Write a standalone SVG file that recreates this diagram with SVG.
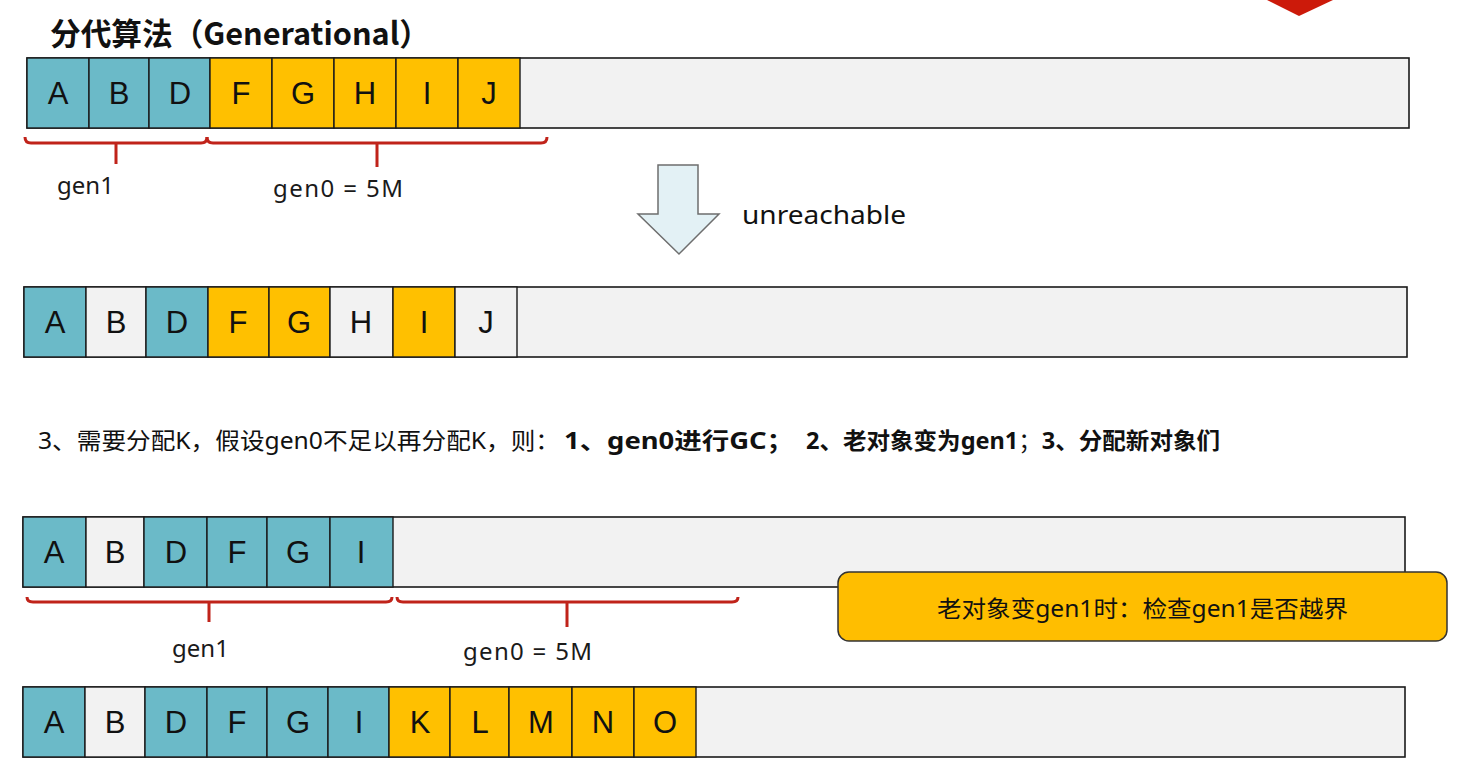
<svg xmlns="http://www.w3.org/2000/svg" width="1465" height="782" viewBox="0 0 1465 782">
<style>
.bar{fill:#F2F2F2;stroke:#1a1a1a;stroke-width:1.6}
.t{fill:#6BBAC8;stroke:#1a1a1a;stroke-width:1.4}
.o{fill:#FFC000;stroke:#1a1a1a;stroke-width:1.4}
.g{fill:#F2F2F2;stroke:#1a1a1a;stroke-width:1.4}
.L{font-family:"Liberation Sans",Arial,sans-serif;font-size:31px;fill:#111;text-anchor:middle}
.lab{font-family:"Noto Sans","Noto Sans CJK SC",sans-serif;font-size:24px;fill:#1a1a1a}
.cn{font-family:"Noto Sans","Noto Sans CJK SC",sans-serif;font-size:23px;fill:#111}
.b{font-weight:bold}
.n{font-weight:normal}
.br{fill:none;stroke:#C0231A;stroke-width:3;stroke-linejoin:round}
</style>
<polygon points="1267,0 1333,0 1299,16" fill="#CC1A0A"/>
<text id="title" x="50" y="45" font-family="'Noto Sans CJK SC','Noto Sans',sans-serif" font-size="31" font-weight="bold" fill="#111" textLength="380" lengthAdjust="spacingAndGlyphs">分代算法（Generational）</text>

<g id="row1">
<rect class="bar" x="27" y="58" width="1382" height="70"/>
<g id="r1A"><rect class="t" x="27" y="58" width="62" height="70"/><text class="L" x="58" y="104">A</text></g>
<g id="r1B"><rect class="t" x="89" y="58" width="60" height="70"/><text class="L" x="119" y="104">B</text></g>
<g id="r1D"><rect class="t" x="149" y="58" width="61" height="70"/><text class="L" x="180" y="104">D</text></g>
<g id="r1F"><rect class="o" x="210" y="58" width="62" height="70"/><text class="L" x="241" y="104">F</text></g>
<g id="r1G"><rect class="o" x="272" y="58" width="62" height="70"/><text class="L" x="303" y="104">G</text></g>
<g id="r1H"><rect class="o" x="334" y="58" width="62" height="70"/><text class="L" x="365" y="104">H</text></g>
<g id="r1I"><rect class="o" x="396" y="58" width="62" height="70"/><text class="L" x="427" y="104">I</text></g>
<g id="r1J"><rect class="o" x="458" y="58" width="62" height="70"/><text class="L" x="489" y="104">J</text></g>
</g>

<g id="braces">
<path class="br" d="M25,137 Q25,143 31,143 H201 Q207,143 207,137 M116,143 V164"/>
<path class="br" d="M207,137 Q207,143 213,143 H541 Q547,143 547,137 M377,143 V167"/>
<path class="br" d="M27,597 Q27,602 33,602 H386 Q392,602 392,597 M209,602 V622"/>
<path class="br" d="M397,597 Q397,602 403,602 H732 Q738,602 738,597 M567,602 V627"/>
</g>
<g id="labels">
<text class="lab" x="57" y="194">gen1</text>
<text class="lab" x="273" y="197" textLength="130" lengthAdjust="spacing">gen0 = 5M</text>
<text class="lab" x="172" y="657">gen1</text>
<text class="lab" x="463" y="660" textLength="129" lengthAdjust="spacing">gen0 = 5M</text>
</g>

<g id="arrow">
<polygon points="658,165 698,165 698,214 719,214 679,254 638,214 658,214" fill="#E3F1F5" stroke="#6e6e6e" stroke-width="1.5"/>
<text x="742" y="224" font-family="'Noto Sans',sans-serif" font-size="26" fill="#111" textLength="164" lengthAdjust="spacingAndGlyphs">unreachable</text>
</g>

<g id="row2">
<rect class="bar" x="24" y="287" width="1383" height="70"/>
<g id="r2A"><rect class="t" x="24" y="287" width="62" height="70"/><text class="L" x="55" y="333">A</text></g>
<g id="r2B"><rect class="g" x="86" y="287" width="60" height="70"/><text class="L" x="116" y="333">B</text></g>
<g id="r2D"><rect class="t" x="146" y="287" width="62" height="70"/><text class="L" x="177" y="333">D</text></g>
<g id="r2F"><rect class="o" x="208" y="287" width="61" height="70"/><text class="L" x="238" y="333">F</text></g>
<g id="r2G"><rect class="o" x="269" y="287" width="61" height="70"/><text class="L" x="299" y="333">G</text></g>
<g id="r2H"><rect class="g" x="330" y="287" width="63" height="70"/><text class="L" x="361" y="333">H</text></g>
<g id="r2I"><rect class="o" x="393" y="287" width="62" height="70"/><text class="L" x="424" y="333">I</text></g>
<g id="r2J"><rect class="g" x="455" y="287" width="62" height="70"/><text class="L" x="486" y="333">J</text></g>
</g>

<g id="step3">
<text class="cn" x="38" y="449" textLength="522" lengthAdjust="spacingAndGlyphs">3、需要分配K，假设gen0不足以再分配K，则：</text>
<text class="cn b" x="564" y="449" textLength="230" lengthAdjust="spacingAndGlyphs">1、gen0进行GC；</text>
<text class="cn b" x="806" y="449" textLength="414" lengthAdjust="spacingAndGlyphs">2、老对象变为gen1<tspan class="n">；</tspan>3、分配新对象们</text>
</g>

<g id="row3">
<rect class="bar" x="23" y="517" width="1382" height="70"/>
<g id="r3A"><rect class="t" x="23" y="517" width="63" height="70"/><text class="L" x="54" y="563">A</text></g>
<g id="r3B"><rect class="g" x="86" y="517" width="58" height="70"/><text class="L" x="115" y="563">B</text></g>
<g id="r3D"><rect class="t" x="144" y="517" width="63" height="70"/><text class="L" x="176" y="563">D</text></g>
<g id="r3F"><rect class="t" x="207" y="517" width="60" height="70"/><text class="L" x="237" y="563">F</text></g>
<g id="r3G"><rect class="t" x="267" y="517" width="63" height="70"/><text class="L" x="298" y="563">G</text></g>
<g id="r3I"><rect class="t" x="330" y="517" width="63" height="70"/><text class="L" x="361" y="563">I</text></g>
</g>

<g id="callout">
<rect x="838" y="572" width="609" height="69" rx="11" fill="#FFBE00" stroke="#333" stroke-width="1.5"/>
<text class="cn" x="937" y="617" font-size="23" textLength="411" lengthAdjust="spacingAndGlyphs">老对象变gen1时：检查gen1是否越界</text>
</g>

<g id="row4">
<rect class="bar" x="23" y="687" width="1382" height="70"/>
<g id="r4A"><rect class="t" x="23" y="687" width="62" height="70"/><text class="L" x="54" y="733">A</text></g>
<g id="r4B"><rect class="g" x="85" y="687" width="60" height="70"/><text class="L" x="115" y="733">B</text></g>
<g id="r4D"><rect class="t" x="145" y="687" width="62" height="70"/><text class="L" x="176" y="733">D</text></g>
<g id="r4F"><rect class="t" x="207" y="687" width="60" height="70"/><text class="L" x="237" y="733">F</text></g>
<g id="r4G"><rect class="t" x="267" y="687" width="61" height="70"/><text class="L" x="298" y="733">G</text></g>
<g id="r4I"><rect class="t" x="328" y="687" width="61" height="70"/><text class="L" x="359" y="733">I</text></g>
<g id="r4K"><rect class="o" x="389" y="687" width="61" height="70"/><text class="L" x="420" y="733">K</text></g>
<g id="r4L"><rect class="o" x="450" y="687" width="59" height="70"/><text class="L" x="480" y="733">L</text></g>
<g id="r4M"><rect class="o" x="509" y="687" width="63" height="70"/><text class="L" x="541" y="733">M</text></g>
<g id="r4N"><rect class="o" x="572" y="687" width="62" height="70"/><text class="L" x="603" y="733">N</text></g>
<g id="r4O"><rect class="o" x="634" y="687" width="62" height="70"/><text class="L" x="665" y="733">O</text></g>
</g>
</svg>
